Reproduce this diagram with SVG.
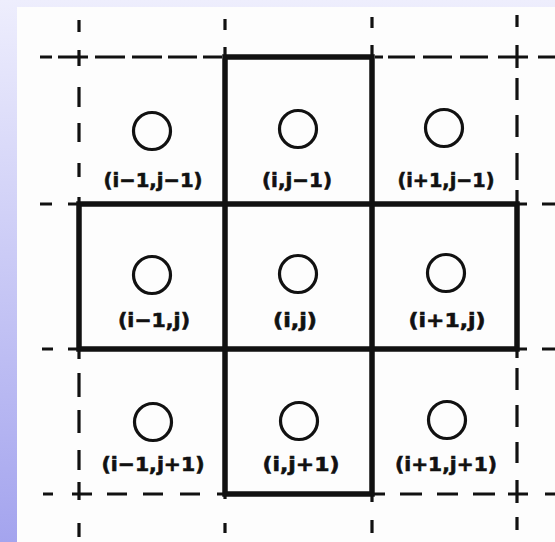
<svg xmlns="http://www.w3.org/2000/svg" width="555" height="542" viewBox="0 0 555 542">
<defs>
<linearGradient id="bg" x1="0" y1="0" x2="0" y2="1">
<stop offset="0" stop-color="#eeeefd"/>
<stop offset="1" stop-color="#a4a4ee"/>
</linearGradient>
<style>
.thick{stroke:#111;stroke-width:5.5;stroke-linecap:square;fill:none}
.dash{stroke:#111;stroke-width:3.2;fill:none}
.c{fill:none;stroke:#111;stroke-width:3.2}
.t{font-family:"DejaVu Sans","Liberation Sans",sans-serif;font-weight:bold;font-size:20px;fill:#111;text-anchor:middle;stroke:#111;stroke-width:0.6}
</style>
</defs>
<rect x="0" y="0" width="555" height="542" fill="url(#bg)"/>
<rect x="17" y="7" width="538" height="535" fill="#fdfdfd"/>
<g id="connectors">
<path class="thick" d="M225 57V494M372 57V494M79 204H517M79 349H517M225 57H372M225 494H372M79 204V349M517 204V349"/>
<path class="dash" d="M40 57H52M58 57H88M95 57H125M132 57H162M168 57H197M203 57H222
M375 57H383M388 57H415M423 57H452M460 57H488M498 57H528M538 57H555
M40 204H52M68 204H79M517 204H527M542 204H555
M42 349H53M68 349H79M517 349H527M542 349H555
M43 494H53M72 494H92M107 494H127M143 494H163M180 494H200M217 494H225
M372 494H385M400 494H422M437 494H458M473 494H495M508 494H528M545 494H555
M79 20V32M79 50V66M79 87V107M79 123V142M79 163V177M79 197V204
M225 19V30M225 47V57M372 17V28M372 45V57
M517 15V27M517 45V68M517 78V100M517 115V137M517 153V180M517 190V204
M79 349V359M79 373V397M79 410V433M79 450V470M79 482V500M79 523V537
M225 494V499M225 523V533M372 494V502M372 520V533
M517 349V358M517 368V390M517 405V427M517 442V463M517 480V503M517 517V530"/>
</g>
<g id="n-im1-jm1"><circle class="c" cx="152" cy="131" r="18.5"/><text class="t" x="153" y="187" textLength="99" lengthAdjust="spacingAndGlyphs">(i−1,j−1)</text></g>
<g id="n-i-jm1"><circle class="c" cx="298" cy="129" r="18.5"/><text class="t" x="297" y="187" textLength="70" lengthAdjust="spacingAndGlyphs">(i,j−1)</text></g>
<g id="n-ip1-jm1"><circle class="c" cx="444" cy="128" r="18.5"/><text class="t" x="446" y="187" textLength="97" lengthAdjust="spacingAndGlyphs">(i+1,j−1)</text></g>
<g id="n-im1-j"><circle class="c" cx="152" cy="275" r="18.5"/><text class="t" x="154" y="327" textLength="72" lengthAdjust="spacingAndGlyphs">(i−1,j)</text></g>
<g id="n-i-j"><circle class="c" cx="298" cy="274" r="18.5"/><text class="t" x="295" y="327" textLength="44" lengthAdjust="spacingAndGlyphs">(i,j)</text></g>
<g id="n-ip1-j"><circle class="c" cx="446" cy="273" r="18.5"/><text class="t" x="447" y="327" textLength="77" lengthAdjust="spacingAndGlyphs">(i+1,j)</text></g>
<g id="n-im1-jp1"><circle class="c" cx="153" cy="422" r="18.5"/><text class="t" x="153" y="471" textLength="103" lengthAdjust="spacingAndGlyphs">(i−1,j+1)</text></g>
<g id="n-i-jp1"><circle class="c" cx="299" cy="421" r="18.5"/><text class="t" x="301" y="471" textLength="77" lengthAdjust="spacingAndGlyphs">(i,j+1)</text></g>
<g id="n-ip1-jp1"><circle class="c" cx="447" cy="420" r="18.5"/><text class="t" x="446" y="471" textLength="102" lengthAdjust="spacingAndGlyphs">(i+1,j+1)</text></g>
</svg>
